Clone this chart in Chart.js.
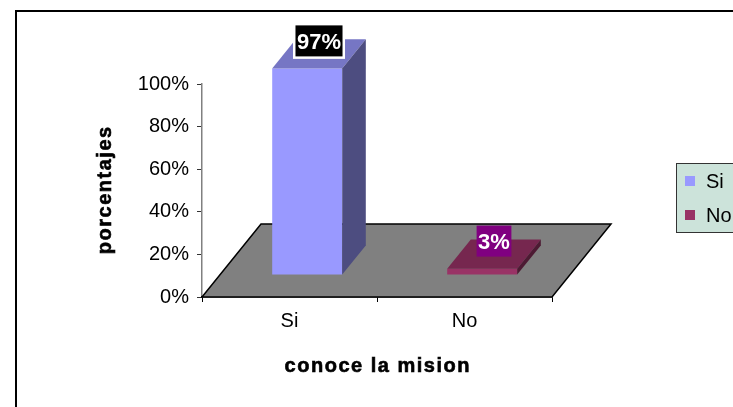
<!DOCTYPE html>
<html>
<head>
<meta charset="utf-8">
<script src="https://cdn.jsdelivr.net/npm/chart.js@4/dist/chart.umd.min.js"></script>
<style>
  html, body { margin: 0; padding: 0; background: #ffffff; }
  #wrap { width: 733px; height: 407px; position: relative; }
</style>
</head>
<body>
<div id="wrap"><canvas id="c" width="733" height="407"></canvas></div>
<script>
// Categories and values (percent)
const categories = ['Si', 'No'];
const percentValues = [97, 3];
const yTickStep = 20;
const yMax = 100;
const xTitle = 'conoce la mision';
const yTitle = 'porcentajes';

// Styling
const FONT = '"Liberation Sans", Arial, sans-serif';
const frontColors = ['#9999FF', '#993366'];
const labelFills = ['#000000', '#800080'];
const labelBorders = ['#FFFFFF', null];

// Perspective of the floor and of each column (pixels / fractions of depth)
const FLOOR_DX = 59, FLOOR_DY = -73;
const BAR_FRONT = 0.3, BAR_DEPTH = 0.4;
const TITLE_SPACING = 1.5;

function shade(hex, k) {
  const n = parseInt(hex.slice(1), 16);
  const r = Math.round(((n >> 16) & 255) * k);
  const g = Math.round(((n >> 8) & 255) * k);
  const b = Math.round((n & 255) * k);
  return `rgb(${r},${g},${b})`;
}

function poly(ctx, pts, fill) {
  ctx.beginPath();
  ctx.moveTo(pts[0][0], pts[0][1]);
  for (let i = 1; i < pts.length; i++) ctx.lineTo(pts[i][0], pts[i][1]);
  ctx.closePath();
  ctx.fillStyle = fill;
  ctx.fill();
}

// Heavy title text centred on (0,0) of the current transform, with letter spacing
function spacedText(ctx, text, spacing) {
  const chars = [...text];
  const widths = chars.map(ch => ctx.measureText(ch).width);
  const total = widths.reduce((a, b) => a + b, 0) + spacing * (chars.length - 1);
  let x = -total / 2;
  ctx.textAlign = 'left';
  ctx.lineWidth = 0.6;
  ctx.strokeStyle = ctx.fillStyle;
  chars.forEach((ch, i) => {
    ctx.fillText(ch, x, 0);
    ctx.strokeText(ch, x, 0);
    x += widths[i] + spacing;
  });
}

const column3d = {
  id: 'column3d',
  beforeDraw(chart) {
    const ctx = chart.ctx;
    ctx.save();
    ctx.fillStyle = '#ffffff';
    ctx.fillRect(0, 0, chart.width, chart.height);
    // outer frame
    ctx.strokeStyle = '#000000';
    ctx.lineWidth = 2;
    ctx.strokeRect(16, 11, 900, 600);
    ctx.restore();
  },
  beforeDatasetsDraw(chart) {
    const { ctx, chartArea: a } = chart;
    // grey floor
    ctx.save();
    ctx.beginPath();
    ctx.moveTo(a.left, a.bottom);
    ctx.lineTo(a.right, a.bottom);
    ctx.lineTo(a.right + FLOOR_DX, a.bottom + FLOOR_DY);
    ctx.lineTo(a.left + FLOOR_DX, a.bottom + FLOOR_DY);
    ctx.closePath();
    ctx.fillStyle = '#808080';
    ctx.fill();
    ctx.strokeStyle = '#000000';
    ctx.lineWidth = 1.5;
    ctx.stroke();
    ctx.restore();
    // columns stand part-way into the floor
    ctx.save();
    ctx.translate(FLOOR_DX * BAR_FRONT, FLOOR_DY * BAR_FRONT);
  },
  afterDatasetsDraw(chart) {
    const ctx = chart.ctx;
    ctx.restore();
    const meta = chart.getDatasetMeta(0);
    const ox = FLOOR_DX * BAR_FRONT, oy = FLOOR_DY * BAR_FRONT;
    const bx = FLOOR_DX * BAR_DEPTH, by = FLOOR_DY * BAR_DEPTH;
    meta.data.forEach((bar, i) => {
      const p = bar.getProps(['x', 'y', 'base', 'width'], true);
      const L = p.x - p.width / 2 + ox, R = p.x + p.width / 2 + ox;
      const T = p.y + oy, B = p.base + oy;
      const col = frontColors[i];
      ctx.save();
      poly(ctx, [[L, T], [R, T], [R + bx, T + by], [L + bx, T + by]], shade(col, 0.77));
      poly(ctx, [[R, T], [R + bx, T + by], [R + bx, B + by], [R, B]], shade(col, 0.5));
      // value label
      const text = percentValues[i] + '%';
      ctx.font = 'bold 22px ' + FONT;
      const w = ctx.measureText(text).width + 3;
      const h = 31;
      const cx = (L + R) / 2 + bx / 2;
      const cy = T + by / 2 - 13;
      if (labelBorders[i]) {
        ctx.fillStyle = labelBorders[i];
        ctx.fillRect(cx - w / 2 - 2.5, cy - h / 2 - 2.5, w + 5, h + 5);
      }
      ctx.fillStyle = labelFills[i];
      ctx.fillRect(cx - w / 2, cy - h / 2, w, h);
      ctx.fillStyle = '#ffffff';
      ctx.textAlign = 'center';
      ctx.textBaseline = 'alphabetic';
      ctx.fillText(text, cx, cy + 8);
      ctx.restore();
    });
  },
  afterDraw(chart) {
    const ctx = chart.ctx;
    const a = chart.chartArea;
    ctx.save();
    // axis titles
    ctx.fillStyle = '#000000';
    ctx.font = 'bold 20px ' + FONT;
    ctx.textBaseline = 'alphabetic';
    ctx.save();
    ctx.translate((a.left + a.right) / 2, 371.5);
    spacedText(ctx, xTitle, TITLE_SPACING);
    ctx.restore();
    ctx.save();
    ctx.translate(111, (a.top + a.bottom) / 2);
    ctx.rotate(-Math.PI / 2);
    spacedText(ctx, yTitle, TITLE_SPACING);
    ctx.restore();

    // legend box
    ctx.fillStyle = '#CCE3DA';
    ctx.fillRect(676, 163, 80, 69);
    ctx.strokeStyle = '#333333';
    ctx.lineWidth = 1;
    ctx.strokeRect(676.5, 163.5, 80, 69);
    ctx.font = '20px ' + FONT;
    ctx.textBaseline = 'middle';
    ctx.textAlign = 'left';
    const rows = [181, 215];
    categories.forEach((c, i) => {
      ctx.fillStyle = frontColors[i];
      ctx.fillRect(685, rows[i] - 5, 10, 10);
      ctx.fillStyle = '#000000';
      ctx.fillText(c, 706, rows[i] + 1);
    });
    ctx.restore();
  }
};

new Chart(document.getElementById('c'), {
  type: 'bar',
  data: {
    labels: categories,
    datasets: [{
      label: xTitle,
      data: percentValues,
      backgroundColor: frontColors,
      borderWidth: 0,
      barPercentage: 0.4,
      categoryPercentage: 1.0,
      clip: false
    }]
  },
  options: {
    responsive: false,
    animation: false,
    events: [],
    layout: { padding: { left: 0, right: 181, top: 84, bottom: 0 } },
    plugins: {
      legend: { display: false },
      tooltip: { enabled: false }
    },
    scales: {
      y: {
        min: 0,
        max: yMax,
        afterFit(s) { s.width = 202; },
        ticks: {
          stepSize: yTickStep,
          callback: v => v + '%',
          color: '#000000',
          font: { family: FONT, size: 20 },
          padding: 8
        },
        grid: { drawOnChartArea: false, tickLength: 5, color: '#333333' },
        border: { display: true, color: '#808080', width: 1.5 },
        title: { display: false }
      },
      x: {
        afterFit(s) { s.height = 110; },
        ticks: {
          color: '#000000',
          font: { family: FONT, size: 20 },
          padding: 7
        },
        grid: { drawOnChartArea: false, tickLength: 5, color: '#000000', offset: true },
        border: { display: true, color: '#000000', width: 1.5 },
        title: { display: false }
      }
    }
  },
  plugins: [column3d]
});
</script>
</body>
</html>
